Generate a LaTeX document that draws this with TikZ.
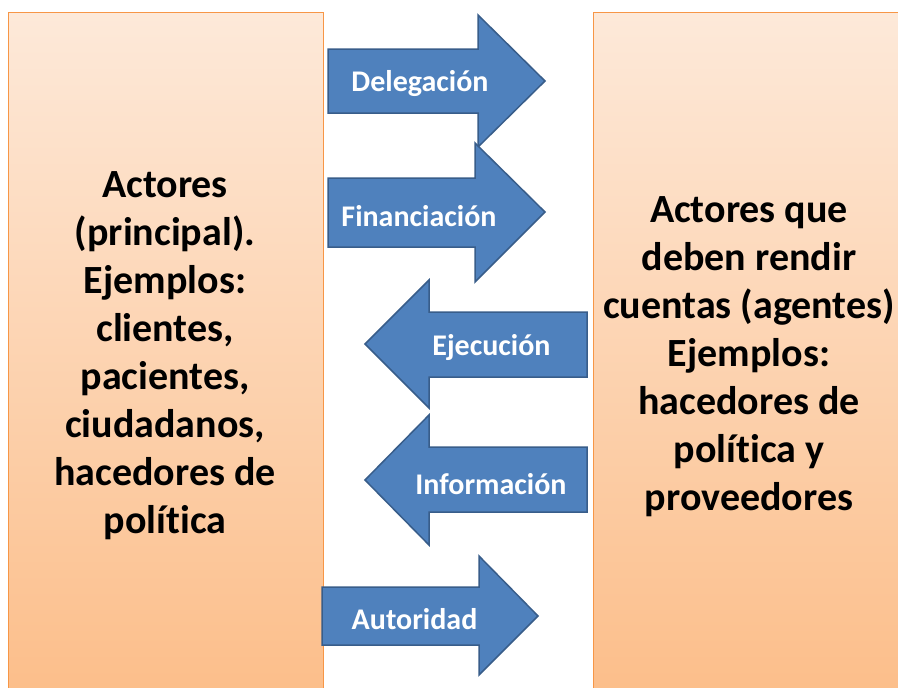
\documentclass[tikz,border=0pt]{standalone}
\usepackage{fontspec}
\setmainfont{Carlito}[Ligatures=NoCommon]
\definecolor{fondoarriba}{HTML}{FDE9D9}
\definecolor{fondoabajo}{HTML}{FCBD88}
\definecolor{borde}{HTML}{F79646}
\definecolor{azul}{HTML}{4F81BD}
\definecolor{azulborde}{HTML}{385D8A}
\tikzstyle{caja} = [rectangle, draw=borde, line width=1pt, top color=fondoarriba, bottom color=fondoabajo, minimum width=315pt, minimum height=700pt, anchor=north west, inner sep=0pt]
\tikzstyle{texto} = [align=center, font=\bfseries\fontsize{40}{48}\selectfont]
\tikzstyle{flecha} = [fill=azul, draw=azulborde, line width=1.5pt, line join=miter]
\tikzstyle{etiqueta} = [text=white, font=\bfseries\fontsize{30}{34}\selectfont]

\begin{document}
\begin{tikzpicture}[x=1pt, y=-1pt]
    \useasboundingbox (0,0) rectangle (898,688);
    \fill[white] (0,0) rectangle (898,688);

    % cajas de actores
    \node (principal) [caja] at (8,12) {};
    \node (agentes) [caja, minimum width=320pt] at (593,12) {};
    \node (principaltxt) [texto] at (165,355.5) {Actores\\(principal).\\Ejemplos:\\clientes,\\pacientes,\\ciudadanos,\\hacedores de\\política};
    \node (agentestxt) [texto] at (749,356.5) {Actores que\\deben rendir\\cuentas (agentes)\\Ejemplos:\\hacedores de\\política y\\proveedores};

    % flechas
    \draw [flecha] (328,49) -- (478,49) -- (478,15) -- (545,81) -- (478,147) -- (478,113) -- (328,113) -- cycle;
    \node (delegacion) [etiqueta] at (420,84) {Delegación};

    \draw [flecha] (328,178) -- (475,178) -- (475,143) -- (545,212) -- (475,282) -- (475,247) -- (328,247) -- cycle;
    \node (financiacion) [etiqueta] at (419,216) {Financiación};

    \draw [flecha] (587,312) -- (429,312) -- (429,280) -- (365,344) -- (429,408) -- (429,377) -- (587,377) -- cycle;
    \node (ejecucion) [etiqueta] at (491.5,348) {Ejecución};

    \draw [flecha] (587,447) -- (429,447) -- (429,415) -- (365,480) -- (429,545) -- (429,512) -- (587,512) -- cycle;
    \node (informacion) [etiqueta] at (491,484) {Información};

    \draw [flecha] (322,587) -- (479,587) -- (479,556) -- (538,616) -- (479,675) -- (479,645) -- (322,645) -- cycle;
    \node (autoridad) [etiqueta] at (414.5,619) {Autoridad};
\end{tikzpicture}
\end{document}
